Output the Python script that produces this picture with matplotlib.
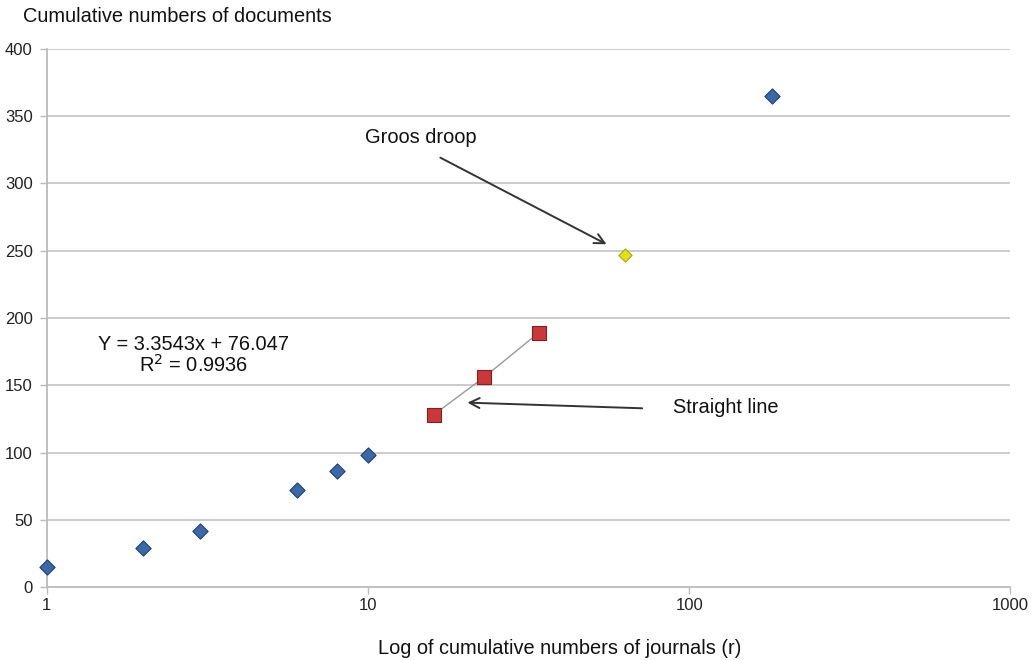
import matplotlib
matplotlib.use("Agg")
import matplotlib.pyplot as plt
from matplotlib.ticker import FixedLocator, NullLocator

plt.rcParams['font.family'] = ['Liberation Sans', 'DejaVu Sans']

# Data
blue_x = [1, 2, 3, 6, 8, 10, 181]
blue_y = [15, 29, 42, 72, 86, 98, 365]
red_x = [16, 23, 34]
red_y = [128, 156, 189]
yellow_x = [63]
yellow_y = [247]
y_ticks = [0, 50, 100, 150, 200, 250, 300, 350, 400]
x_ticks = [1, 10, 100, 1000]
x_tick_labels = ['1', '10', '100', '1000']

fig = plt.figure(figsize=(10.33, 6.6), dpi=100)
ax = fig.add_axes([0.0452, 0.1102, 0.9330, 0.8162])

ax.set_xscale('log')
ax.set_xlim(1, 1000)
ax.set_ylim(0, 400)

for yv in y_ticks[1:]:
    ax.axhline(yv, color='#c8c8c8', lw=1.3, zorder=0)

ax.plot(red_x, red_y, color='#999999', lw=1.0, zorder=2)
ax.scatter(blue_x, blue_y, marker='D', s=60, color='#3c69a6',
           edgecolors='#1f3f70', linewidths=0.8, zorder=3, clip_on=False)
ax.scatter(red_x, red_y, marker='s', s=95, color='#c8393b',
           edgecolors='#8a1d1d', linewidths=0.8, zorder=3)
ax.scatter(yellow_x, yellow_y, marker='D', s=45, color='#e0e020',
           edgecolors='#a8a810', linewidths=0.8, zorder=3)

ax.xaxis.set_major_locator(FixedLocator(x_ticks))
ax.xaxis.set_minor_locator(NullLocator())
ax.set_xticklabels(x_tick_labels)
ax.set_yticks(y_ticks)
ax.tick_params(axis='both', labelsize=12, colors='#222222', length=5,
               width=1, pad=5)
ax.tick_params(axis='x', pad=3)
ax.tick_params(axis='both', color='#bbbbbb')

for s in ['top', 'right']:
    ax.spines[s].set_visible(False)
for s in ['left', 'bottom']:
    ax.spines[s].set_color('#bbbbbb')
    ax.spines[s].set_linewidth(1.3)

fig.text(23 / 1033, 1 - 16 / 660, 'Cumulative numbers of documents',
         fontsize=14.4, ha='left', va='center', color='#111111')
fig.text(560 / 1033, 1 - 648 / 660, 'Log of cumulative numbers of journals (r)',
         fontsize=14.4, ha='center', va='center', color='#111111')

ax.text(0.152, 0.431, 'Y = 3.3543x + 76.047\nR$^2$ = 0.9936',
        transform=ax.transAxes, fontsize=14.4, ha='center', va='center',
        linespacing=1.0, color='#111111')

ax.annotate('', xy=(55.3, 254.7), xytext=(16.8, 319),
            arrowprops=dict(arrowstyle='->', color='#333333', lw=1.4,
                            mutation_scale=18, shrinkA=0, shrinkB=0))
ax.text(14.6, 334, 'Groos droop', fontsize=14.4, ha='center', va='center',
        color='#111111')

ax.annotate('', xy=(20.4, 137.1), xytext=(71.4, 132.9),
            arrowprops=dict(arrowstyle='->', color='#333333', lw=1.4,
                            mutation_scale=18, shrinkA=0, shrinkB=0))
ax.text(130, 133.6, 'Straight line', fontsize=14.4, ha='center', va='center',
        color='#111111')

fig.savefig('out.png', dpi=100)
